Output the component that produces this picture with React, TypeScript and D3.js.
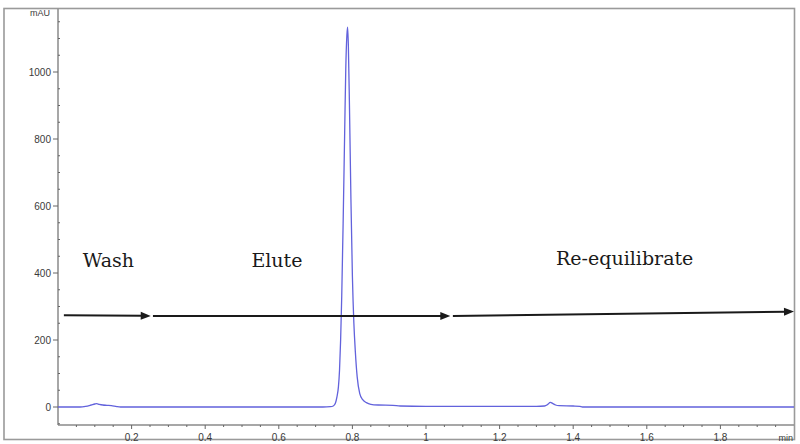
import React from "react";
import * as d3 from "d3";

// Chromatogram trace (time in min, absorbance in mAU)
const times = [
  0.0, 0.06, 0.075, 0.09, 0.1, 0.105, 0.112, 0.122, 0.133, 0.145, 0.16, 0.17,
  0.6, 0.72, 0.74, 0.748, 0.754, 0.758, 0.762, 0.765, 0.768, 0.771, 0.775, 0.779,
  0.782, 0.785, 0.787, 0.789, 0.792, 0.796, 0.8, 0.804, 0.808, 0.813, 0.82, 0.828,
  0.838, 0.85, 0.87, 0.91, 0.93, 1.0, 1.2, 1.3, 1.322, 1.33, 1.338, 1.345, 1.352,
  1.362, 1.4, 1.418, 1.425, 2.0,
];
const mau = [
  0, 0, 2, 6, 9, 10, 8, 6, 5, 4, 1, 0,
  0, 0, 1, 3, 12, 30, 60, 110, 200, 330, 560, 820,
  1010, 1110, 1134, 1080, 900, 620, 390, 250, 165, 90, 40, 22,
  13, 8, 6, 5, 3, 2, 2, 2, 3, 7, 14, 10, 6,
  4, 3, 2, 0, 0,
];

const yMajorTicks = [0, 200, 400, 600, 800, 1000];
const xMajorTicks = [0.2, 0.4, 0.6, 0.8, 1, 1.2, 1.4, 1.6, 1.8];
const xTickLabels = ["0.2", "0.4", "0.6", "0.8", "1", "1.2", "1.4", "1.6", "1.8"];

// Phase annotations
const phaseLabels = ["Wash", "Elute", "Re-equilibrate"];
const phaseLabelX = [0.137, 0.595, 1.54];
const phaseLabelY = [419, 419, 424];
const arrowStartX = [0.016, 0.258, 1.073];
const arrowEndX = [0.252, 1.066, 2.0];
const arrowStartY = [274, 272, 272];
const arrowEndY = [272, 272, 285];

const W = 800;
const H = 444;
const left = 58;
const right = 794;
const top = 8.7;
const bottom = 425;

export default function App() {
  const x = d3.scaleLinear().domain([0, 2]).range([left, right]);
  const y = d3.scaleLinear().domain([-53.7, 1189]).range([bottom, top]);

  const pts = times.map((t, i) => [t, mau[i]] as [number, number]);
  const line = d3
    .line<[number, number]>()
    .x((d) => x(d[0]))
    .y((d) => y(d[1]))
    .curve(d3.curveMonotoneX);

  const yMinor = d3.range(-50, 1200, 50).filter((v) => v % 200 !== 0);
  const xMinor = d3.range(0.05, 2.0, 0.05).filter((v) => Math.abs(v * 5 - Math.round(v * 5)) > 1e-6);

  const axisColor = "#8a8a8a";
  const labelFont = "'Liberation Sans', Arial, sans-serif";
  const labelColor = "#3a3a3a";

  const arrowHead = (x1: number, y1: number, x2: number, y2: number) => {
    const ang = Math.atan2(y2 - y1, x2 - x1);
    const len = 10;
    const hw = 4;
    const bx = x2 - len * Math.cos(ang);
    const by = y2 - len * Math.sin(ang);
    const px = -Math.sin(ang) * hw;
    const py = Math.cos(ang) * hw;
    return `M${x2},${y2}L${bx + px},${by + py}L${bx - px},${by - py}Z`;
  };

  return (
    <svg
      width={W}
      height={H}
      style={{ position: "absolute", left: 0, top: 0, background: "#fff" }}
    >
      {/* outer frame */}
      <rect x={4} y={8.5} width={790.5} height={431} fill="none" stroke="#9a9a9a" strokeWidth={1.6} />

      {/* y axis */}
      <line x1={left} x2={left} y1={top} y2={bottom} stroke={axisColor} strokeWidth={1.5} />
      {/* x axis */}
      <line x1={left} x2={right} y1={bottom} y2={bottom} stroke={axisColor} strokeWidth={1.5} />

      {yMajorTicks.map((v) => (
        <g key={"ym" + v}>
          <line x1={left - 5} x2={left} y1={y(v)} y2={y(v)} stroke="#666" strokeWidth={1} />
          <text
            x={51}
            y={y(v) + 3.6}
            textAnchor="end"
            fontSize={10}
            fontFamily={labelFont}
            fill={labelColor}
          >
            {v}
          </text>
        </g>
      ))}
      {yMinor.map((v) => (
        <line key={"yn" + v} x1={left} x2={left + 2} y1={y(v)} y2={y(v)} stroke="#666" strokeWidth={1} />
      ))}
      <text x={50} y={16} textAnchor="end" fontSize={9} fontFamily={labelFont} fill={labelColor}>
        mAU
      </text>

      {xMajorTicks.map((v, i) => (
        <g key={"xm" + v}>
          <line x1={x(v)} x2={x(v)} y1={bottom} y2={bottom + 4} stroke="#666" strokeWidth={1} />
          <text
            x={x(v)}
            y={441}
            textAnchor="middle"
            fontSize={10}
            fontFamily={labelFont}
            fill={labelColor}
          >
            {xTickLabels[i]}
          </text>
        </g>
      ))}
      {xMinor.map((v) => (
        <line key={"xn" + v} x1={x(v)} x2={x(v)} y1={bottom} y2={bottom + 2} stroke="#666" strokeWidth={1} />
      ))}
      <text x={793} y={441} textAnchor="end" fontSize={9} fontFamily={labelFont} fill={labelColor}>
        min
      </text>

      {/* trace */}
      <path d={line(pts) || ""} fill="none" stroke="#6262dc" strokeWidth={1.3} strokeLinejoin="round" />

      {/* annotations */}
      {phaseLabels.map((s, i) => (
        <text
          key={s}
          x={x(phaseLabelX[i])}
          y={y(phaseLabelY[i])}
          textAnchor="middle"
          fontSize={19}
          fontFamily="'DejaVu Serif', serif"
          fill="#1a1a1a"
        >
          {s}
        </text>
      ))}
      {arrowStartX.map((sx, i) => {
        const x1 = x(sx);
        const y1 = y(arrowStartY[i]);
        const x2 = x(arrowEndX[i]);
        const y2 = y(arrowEndY[i]);
        const ang = Math.atan2(y2 - y1, x2 - x1);
        return (
          <g key={"ar" + i}>
            <line
              x1={x1}
              y1={y1}
              x2={x2 - 8 * Math.cos(ang)}
              y2={y2 - 8 * Math.sin(ang)}
              stroke="#1a1a1a"
              strokeWidth={2}
            />
            <path d={arrowHead(x1, y1, x2, y2)} fill="#1a1a1a" />
          </g>
        );
      })}
    </svg>
  );
}
